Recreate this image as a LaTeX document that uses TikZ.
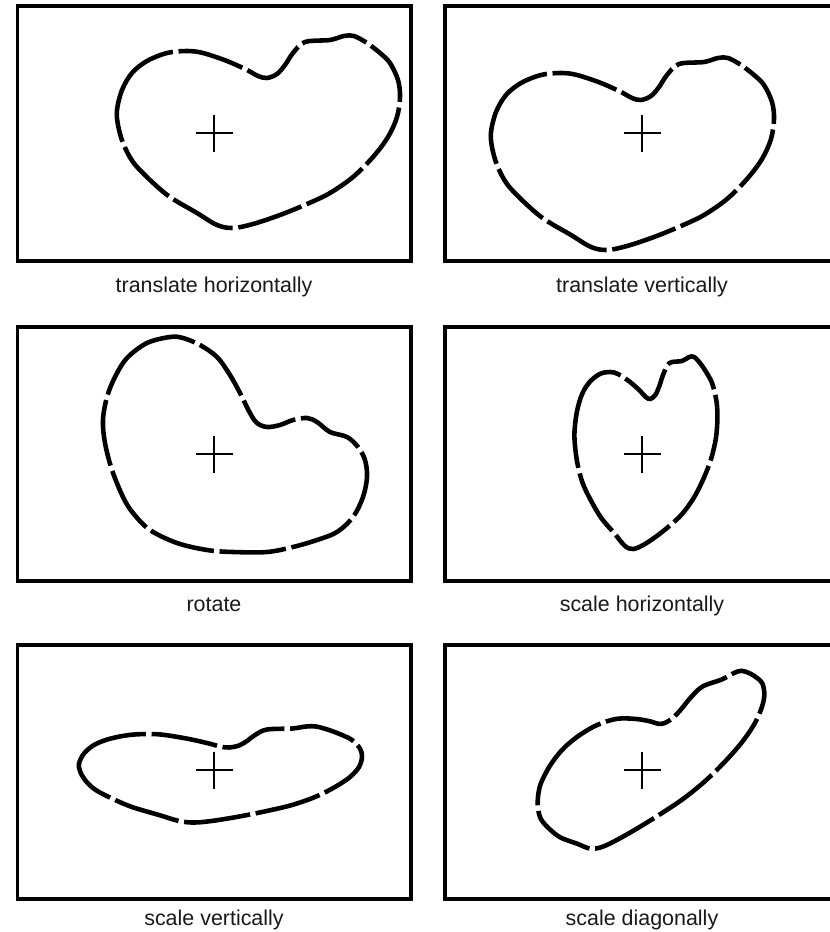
\documentclass[tikz,border=0pt]{standalone}
\usepackage{fontspec}
\setmainfont{Liberation Sans}
\usetikzlibrary{positioning}
\tikzset{
  panel/.style={draw=black, line width=2.6pt},
  outline/.style={draw=black, line width=3.9pt, dash pattern=on 20mm off 1.7mm},
  crossline/.style={draw=black, line width=1.7pt},
  caption/.style={anchor=base, font=\fontsize{18.3}{22}\selectfont, text=black!90, inner sep=0pt},
  crosshair/.pic={\draw[crossline] (-18.5,0) -- (18.5,0) (0,-18.5) -- (0,18.5);}
}
% the outline, drawn around its centre
\newcommand{\blob}{plot[smooth cycle, tension=0.55] coordinates {
  (-97,-23) (-92,-43) (-82,-60) (-67,-72) (-47,-80) (-27,-82) (-11,-80)
  (13,-72) (33,-63) (44,-57) (53,-55) (63,-59) (71,-68) (79,-80) (91,-91)
  (116,-93) (130,-97) (140,-97) (153,-90) (166,-80) (176,-70) (184,-53)
  (186,-36) (183,-16) (174,4) (159,24) (139,44) (116,60) (93,71) (66,82)
  (39,91) (19,95) (3,92) (-17,80) (-44,64) (-64,47) (-81,29) (-91,10) (-96,-8)}}
\newcommand{\turnedblob}{plot[smooth cycle, tension=0.55] coordinates {
  (-44,-117) (-67,-111) (-87,-96) (-99,-77) (-107,-57) (-111,-34) (-109,-11)
  (-102,16) (-91,43) (-81,59) (-64,76) (-37,89) (-7,96) (19,98) (53,98)
  (79,93) (103,86) (123,78) (139,63) (149,43) (153,23) (151,6) (144,-7)
  (133,-17) (116,-22) (103,-32) (93,-36) (79,-34) (66,-29) (53,-27) (43,-31)
  (36,-41) (26,-61) (16,-79) (3,-97) (-14,-109) (-31,-116)}}
\begin{document}
\begin{tikzpicture}[x=0.3mm, y=-0.3mm]
\useasboundingbox (0,0) rectangle (830,932);
\clip (0,0) rectangle (830,932);
% frames
\draw[panel] (17.5,6) rectangle (411,261);
\draw[panel] (445,6) rectangle (840,261);
\draw[panel] (17.5,327) rectangle (411,581);
\draw[panel] (445,327) rectangle (840,581);
\draw[panel] (17.5,645) rectangle (411,899);
\draw[panel] (445,645) rectangle (840,899);
% centres
\coordinate (c1) at (214,133);
\coordinate (c2) at (642,133);
\coordinate (c3) at (214,454);
\coordinate (c4) at (642,454);
\coordinate (c5) at (214,770);
\coordinate (c6) at (642,770);
\foreach \c in {c1,c2,c3,c4,c5,c6}
  \pic at (\c) {crosshair};
% outlines
\begin{scope}[shift={(c1)}]
  \draw[outline] \blob;
\end{scope}
\begin{scope}[shift={(c2)}, shift={(-54,22)}]
  \draw[outline] \blob;
\end{scope}
\begin{scope}[shift={(c3)}]
  \draw[outline] \turnedblob;
\end{scope}
\begin{scope}[shift={(c4)}, shift={(-18.5,0)}, xscale=0.505]
  \draw[outline] \blob;
\end{scope}
\begin{scope}[shift={(c5)}, shift={(-38,5)}, yscale=0.5]
  \draw[outline] \blob;
\end{scope}
\begin{scope}[shift={(c6)}, cm={0.7675,0.228,0.246,0.775,(-31.9,7.9)}]
  \draw[outline] \blob;
\end{scope}
% captions
\node[caption] (cap1) at (214,292) {translate horizontally};
\node[caption] (cap2) at (642,292) {translate vertically};
\node[caption] (cap3) at (214,611) {rotate};
\node[caption] (cap4) at (642,611) {scale horizontally};
\node[caption] (cap5) at (214,925) {scale vertically};
\node[caption] (cap6) at (642,925) {scale diagonally};
\end{tikzpicture}
\end{document}
